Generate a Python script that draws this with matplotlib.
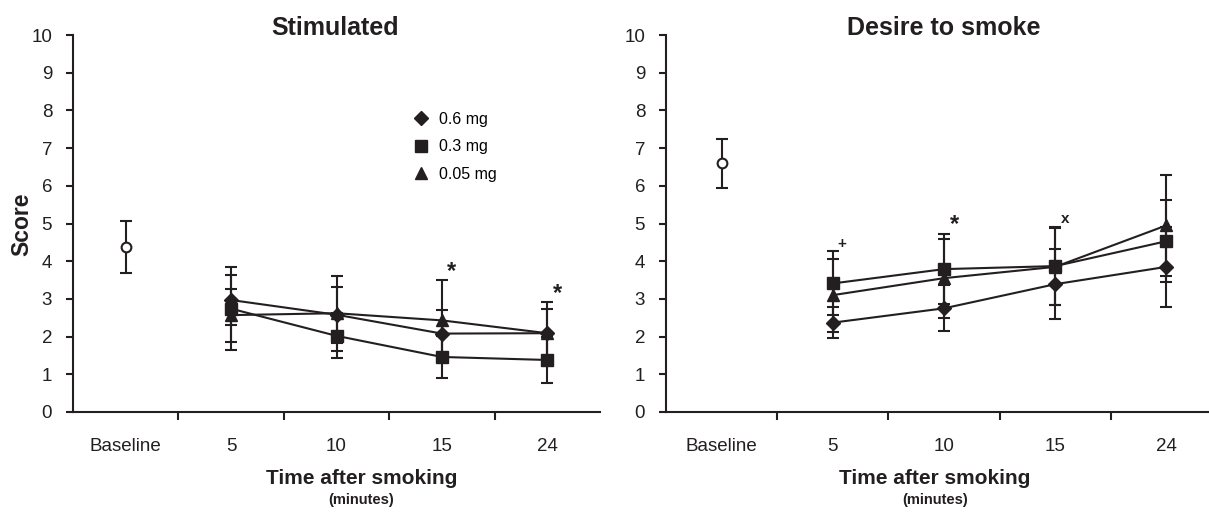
import matplotlib
matplotlib.use("Agg")
import matplotlib.pyplot as plt
from matplotlib.lines import Line2D
import numpy as np

plt.rcParams['font.family'] = ['Liberation Sans', 'DejaVu Sans']

categories = ["Baseline", "5", "10", "15", "24"]
doses = ["0.6 mg", "0.3 mg", "0.05 mg"]
markers = ["D", "s", "^"]
msizes = [7, 8, 9]

# Stimulated
stim_base = 4.37
stim_base_err = 0.69
stim_means = {
    "0.6 mg": [2.97, 2.58, 2.08, 2.09],
    "0.3 mg": [2.74, 2.02, 1.46, 1.38],
    "0.05 mg": [2.57, 2.62, 2.43, 2.09],
}
stim_errs = {
    "0.6 mg": [0.66, 0.74, 0.63, 0.63],
    "0.3 mg": [1.10, 0.60, 0.56, 0.60],
    "0.05 mg": [0.70, 1.00, 1.07, 0.83],
}
stim_marks = [("*", 3.09, 3.72), ("*", 4.10, 3.15)]

# Desire to smoke
des_base = 6.60
des_base_err = 0.65
des_means = {
    "0.6 mg": [2.37, 2.75, 3.39, 3.85],
    "0.3 mg": [3.41, 3.79, 3.87, 4.53],
    "0.05 mg": [3.10, 3.55, 3.85, 4.95],
}
des_errs = {
    "0.6 mg": [0.41, 0.61, 0.93, 1.06],
    "0.3 mg": [0.85, 0.92, 1.04, 1.09],
    "0.05 mg": [0.97, 1.05, 1.02, 1.33],
}
des_marks = [("+", 1.08, 4.45), ("*", 2.09, 4.97), ("x", 3.09, 5.12)]

C = "#231f20"
W, H = 1209, 516
fig = plt.figure(figsize=(W / 100, H / 100), dpi=100)

def px_axes(x0, x1, y_top, y_bot):
    return fig.add_axes([x0 / W, 1 - y_bot / H, (x1 - x0) / W, (y_bot - y_top) / H])

ax1 = px_axes(73, 600, 35, 412)
ax2 = px_axes(666, 1222, 35, 412)

def draw(ax, title, title_x, base, base_err, means, errs, marks):
    xs = np.arange(1, len(categories))
    ax.errorbar([0], [base], yerr=[base_err], fmt="o", color=C, mfc="white",
                mec=C, ms=7, mew=1.5, ecolor=C, elinewidth=1.5, capsize=4, capthick=1.5)
    for d, m, s in zip(doses, markers, msizes):
        ax.errorbar(xs, means[d], yerr=errs[d], fmt="-", marker=m, color=C, ms=s,
                    lw=1.5, elinewidth=1.5, capsize=4, capthick=1.5, mec=C, mfc=C)
    for txt, x, y in marks:
        if txt == "*":
            ax.text(x, y, txt, fontsize=17, fontweight="bold", color=C, ha="center", va="center")
        else:
            ax.text(x, y, txt, fontsize=11, fontweight="bold", color=C, ha="center", va="center")
    ax.set_xlim(-0.5, len(categories) - 0.5)
    ax.set_ylim(0, 10)
    ax.set_yticks(range(0, 11))
    ax.set_xticks(np.arange(0.5, len(categories) - 0.5, 1.0))
    ax.set_xticklabels([])
    ax.set_xticks(np.arange(len(categories)), minor=True)
    ax.set_xticklabels(categories, minor=True)
    ax.tick_params(axis="x", which="major", length=6, width=1.5, color=C, direction="out")
    ax.tick_params(axis="x", which="minor", length=0, pad=19, labelsize=13.5, labelcolor=C)
    ax.tick_params(axis="y", length=5, width=1.5, color=C, labelsize=13.5, labelcolor=C, pad=10)
    for sp in ["top", "right"]:
        ax.spines[sp].set_visible(False)
    for sp in ["left", "bottom"]:
        ax.spines[sp].set_linewidth(1.5)
        ax.spines[sp].set_color(C)
    fig.text(title_x / W, 1 - 28 / H, title, fontsize=18, fontweight="bold", color=C,
             ha="center", va="center")

draw(ax1, "Stimulated", 335, stim_base, stim_base_err, stim_means, stim_errs, stim_marks)
draw(ax2, "Desire to smoke", 944, des_base, des_base_err, des_means, des_errs, des_marks)

fig.text(22 / W, 1 - 224 / H, "Score", fontsize=16.5, fontweight="bold", color=C,
         rotation=90, ha="center", va="center")

for cx in [(73 + 600) / 2 + 25, 935]:
    fig.text(cx / W, 1 - 478 / H, "Time after smoking", fontsize=15, fontweight="bold",
             color=C, ha="center", va="center")
    fig.text(cx / W, 1 - 500 / H, "(minutes)", fontsize=10.5, fontweight="bold",
             color=C, ha="center", va="center")

handles = [Line2D([], [], linestyle="none", marker=m, color=C, ms=s) for m, s in zip(markers, msizes)]
fig.legend(handles, doses, loc="upper left", bbox_to_anchor=(405 / W, 1 - 104 / H),
           frameon=False, fontsize=11.5, handlelength=1.0, handletextpad=0.65,
           labelspacing=0.78, borderpad=0)

fig.savefig("out.png", dpi=100)
